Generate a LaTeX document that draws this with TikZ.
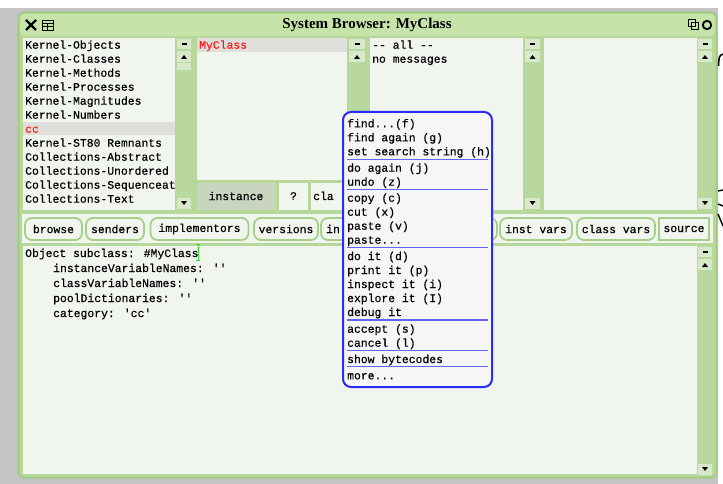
\documentclass[tikz,border=0pt]{standalone}
\usepackage{fontspec}
\setmainfont{Liberation Serif}
\setmonofont{Liberation Mono}
\newfontfamily\uiface{Liberation Mono}[FakeBold=0.45]
\usetikzlibrary{positioning}

\definecolor{deskgray}{HTML}{C4C4C4}
\definecolor{wingreen}{HTML}{B7D79B}
\definecolor{winedge}{HTML}{9CCB78}
\definecolor{titlegreen}{HTML}{C6E3A9}
\definecolor{panefill}{HTML}{F0F5EE}
\definecolor{trackgreen}{HTML}{B9D89F}
\definecolor{knobgreen}{HTML}{D8E9C9}
\definecolor{selgray}{HTML}{DEDEDA}
\definecolor{tabsel}{HTML}{C9D5BF}
\definecolor{pillgreen}{HTML}{A8CF8A}
\definecolor{menublue}{HTML}{2B2BFF}
\definecolor{menuline}{HTML}{6464FF}
\definecolor{menufill}{HTML}{F6F6F6}
\definecolor{selred}{HTML}{FF1E1E}
\definecolor{cursorgreen}{HTML}{3EDB2E}

\newcommand{\uifont}{\uiface\fontsize{11.4}{13}\selectfont}

% scroll column: left x, right x, top y, bottom y
\newcommand{\scrollcol}[4]{%
    \pgfmathsetmacro{\scx}{(#1+#2)/2}
    \fill[trackgreen] (#1,#3) rectangle (#2,#4);
    \fill[knobgreen] (#1+1,#3+1) rectangle (#2-1,#3+11);
    \fill[black] (\scx-2.5,#3+5) rectangle (\scx+2.5,#3+7);
    \fill[knobgreen] (#1+1,#3+13) rectangle (#2-1,#3+24);
    \fill[black] (\scx-3,#3+21) -- (\scx+3,#3+21) -- (\scx,#3+17) -- cycle;
}
% down arrow at the foot of a scroll column
\newcommand{\scrolldown}[3]{%
    \pgfmathsetmacro{\scx}{(#1+#2)/2}
    \fill[knobgreen] (#1+1,#3-12) rectangle (#2-1,#3-1);
    \fill[black] (\scx-3,#3-9) -- (\scx+3,#3-9) -- (\scx,#3-5) -- cycle;
}

\begin{document}
\begin{tikzpicture}[
        x=1pt, y=-1pt,
        listtext/.style={anchor=base west, inner sep=0pt, font=\uifont},
        menuitem/.style={anchor=base west, inner sep=0pt, font=\uifont},
        sepline/.style={draw=menuline, line width=1.4pt},
        pill/.style={
                draw=pillgreen,
                fill=panefill,
                line width=1.8pt,
                rounded corners=7pt,
                minimum height=22pt,
                inner sep=0pt,
                font=\uifont
            },
        tab/.style={fill=panefill, minimum height=27pt, inner sep=0pt, font=\uifont},
        pane/.style={fill=panefill},
        menubox/.style={
                draw=menublue,
                fill=menufill,
                line width=2pt,
                rounded corners=8pt,
                inner sep=0pt
            }
    ]
    \useasboundingbox (0,0) rectangle (723,484);
    \fill[white] (0,0) rectangle (723,484);
    \fill[deskgray] (0,8) rectangle (718,484);

    % window frame and title
    \fill[wingreen, rounded corners=6pt] (18,12) rectangle (717,478);
    \fill[titlegreen, rounded corners=5pt] (20,14) rectangle (715,36);
    \draw[winedge, line width=1.5pt, rounded corners=6pt] (18.5,12.5) rectangle (716.5,477.5);
    \node[font=\fontsize{15}{17}\selectfont\bfseries] (title) at (367,25) {System Browser: MyClass};
    \draw[line width=2.2pt] (26,20) -- (36,30) (36,20) -- (26,30);
    \draw[line width=0.9pt] (42,20) rectangle (53,30) (42,23.5) -- (53,23.5) (42,26.5) -- (53,26.5) (47.5,23.5) -- (47.5,30);
    \draw[line width=1pt] (688,20) rectangle (695,27) (691,23) rectangle (698,30);
    \draw[line width=1.8pt] (707,25) circle (4.2);

    % category pane
    \fill[pane] (23,38) rectangle (175,210);
    \fill[selgray] (23,122) rectangle (175,135);
    \foreach \cat/\col [count=\i] in {Kernel-Objects/black, Kernel-Classes/black,
            Kernel-Methods/black, Kernel-Processes/black, Kernel-Magnitudes/black,
            Kernel-Numbers/black, cc/selred, Kernel-ST80 Remnants/black,
            Collections-Abstract/black, Collections-Unordered/black,
            Collections-Sequenceat/black, Collections-Text/black}
        \node[listtext, text=\col] (cat\i) at (25,34.7+14*\i) {\cat};
    \scrollcol{176}{192}{38}{210}
    \scrolldown{176}{192}{210}
    \fill[knobgreen] (177,63) rectangle (191,70);

    % class pane
    \fill[pane] (197,38) rectangle (347,180);
    \fill[selgray] (197,38) rectangle (347,52);
    \node[listtext, text=selred] (myclass) at (199,48.7) {MyClass};
    \scrollcol{348}{366}{38}{210}
    \node[tab, fill=tabsel, minimum width=79pt] (instance) at (236,196) {instance};
    \node[tab, minimum width=29pt] (query) at (293.5,196) {?};
    \node[tab, minimum width=52pt] (clsbtn) at (337,196) {};
    \node[listtext] (clstext) at (313,200) {cla};

    % protocol pane
    \fill[pane] (370,38) rectangle (523,210);
    \node[listtext] (allprot) at (372,48.7) {-- all --};
    \node[listtext] (nomsg) at (372,62.7) {no messages};
    \scrollcol{524}{541}{38}{210}
    \scrolldown{524}{541}{210}

    % method pane
    \fill[pane] (544,38) rectangle (697,210);
    \scrollcol{697}{713}{38}{210}
    \scrolldown{697}{713}{210}

    % button bar
    \fill[pane] (22,214) rectangle (713,243);
    \node[pill, minimum width=57pt] (browse) at (53.5,229) {browse};
    \node[pill, minimum width=58pt] (senders) at (115,229) {senders};
    \node[pill, minimum width=98pt] (implementors) at (199.5,229) {implementors};
    \node[pill, minimum width=64pt] (versions) at (286,229) {versions};
    \node[pill, minimum width=176pt] (inher) at (409,229) {};
    \node[listtext] (intext) at (326,233) {in};
    \node[pill, minimum width=72pt] (instvars) at (536,229) {inst vars};
    \node[pill, minimum width=78pt] (classvars) at (616,229) {class vars};
    \node[pill, rounded corners=0pt, minimum width=50pt] (source) at (684,229) {source};

    % code pane
    \fill[pane] (23,246) rectangle (697,474);
    \scrollcol{697}{713}{246}{476}
    \scrolldown{697}{713}{476}
    \node[listtext] (code1) at (25,257) {Object subclass: \#MyClass};
    \node[listtext] (code2) at (53,272) {instanceVariableNames: ''};
    \node[listtext] (code3) at (53,287) {classVariableNames: ''};
    \node[listtext] (code4) at (53,302) {poolDictionaries: ''};
    \node[listtext] (code5) at (53,317) {category: 'cc'};
    \draw[cursorgreen, line width=1pt] (198,244) -- (198,260) (196,244) -- (200,244) (196,260) -- (200,260);

    % yellow button menu
    \node[menubox, minimum width=149pt, minimum height=275pt] (menu) at (417.5,249.5) {};
    \node[menuitem] (find) at (347,127.3) {find...(f)};
    \node[menuitem] (findagain) at (347,141.3) {find again (g)};
    \node[menuitem] (setsearch) at (347,155.3) {set search string (h)};
    \node[menuitem] (doagain) at (347,171.7) {do again (j)};
    \node[menuitem] (undo) at (347,185.7) {undo (z)};
    \node[menuitem] (copy) at (347,201.7) {copy (c)};
    \node[menuitem] (cut) at (347,215.7) {cut (x)};
    \node[menuitem] (paste) at (347,229.7) {paste (v)};
    \node[menuitem] (pastemore) at (347,243.7) {paste...};
    \node[menuitem] (doit) at (347,260) {do it (d)};
    \node[menuitem] (printit) at (347,274) {print it (p)};
    \node[menuitem] (inspectit) at (347,288) {inspect it (i)};
    \node[menuitem] (exploreit) at (347,302) {explore it (I)};
    \node[menuitem] (debugit) at (347,316) {debug it};
    \node[menuitem] (accept) at (347,332.7) {accept (s)};
    \node[menuitem] (cancel) at (347,346.7) {cancel (l)};
    \node[menuitem] (bytecodes) at (347,363) {show bytecodes};
    \node[menuitem] (more) at (347,379.3) {more...};
    \foreach \yy in {159.3,189.3,247.7,320,350.3,366.7}
        \draw[sepline] (347,\yy) -- (488,\yy);

    % stray strokes right of the window
    \draw[line width=1.6pt] (723,54) .. controls (719,56) .. (718.5,66);
    \draw[line width=1.4pt] (718,191) -- (723,190);
    \draw[line width=1.4pt] (718,204) -- (723,206);
    \draw[line width=1.4pt] (718,214) .. controls (720,220) .. (723,226);
\end{tikzpicture}
\end{document}
